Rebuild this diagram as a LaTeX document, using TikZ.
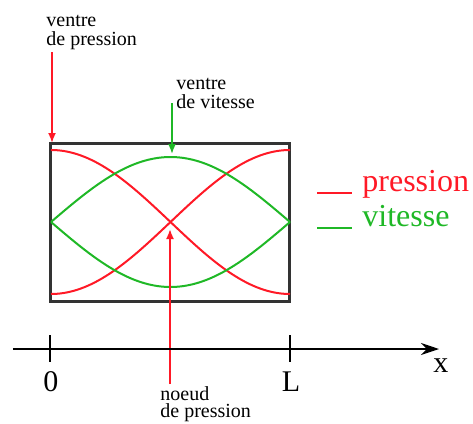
\documentclass[tikz,border=0pt]{standalone}
\usepackage{fontspec}
\setmainfont{Liberation Serif}
\usepackage{tikz}
\usetikzlibrary{arrows.meta}
\definecolor{pgreen}{rgb}{0.12,0.72,0.15}
\definecolor{pred}{rgb}{1,0.1,0.15}

\begin{document}
\begin{tikzpicture}[x=0.5pt, y=-0.5pt, >={Latex[length=5pt,width=4pt]},
	every node/.style={inner sep=0pt},
	lbl/.style={align=left, font=\fontsize{10}{9.5}\selectfont},
	big/.style={font=\fontsize{15}{16}\selectfont},
	leg/.style={font=\fontsize{16}{18}\selectfont, anchor=base west},
	curve/.style={line width=1pt}]
	\useasboundingbox (0,0) rectangle (473,424);
	% the tube
	\draw[line width=1.5pt, black!80] (51,143) rectangle (290,301);
	\draw[pred, curve] plot[domain=0:180, samples=80] ({51+1.3278*\x}, {222-72*cos(\x)});
	\draw[pred, curve] plot[domain=0:180, samples=80] ({51+1.3278*\x}, {222+72*cos(\x)});
	\draw[pgreen, curve] plot[domain=0:180, samples=80] ({51+1.3278*\x}, {222-65*sin(\x)});
	\draw[pgreen, curve] plot[domain=0:180, samples=80] ({51+1.3278*\x}, {222+65*sin(\x)});
	% labels and arrows
	\coordinate (vp) at (52,143);
	\coordinate (vv) at (172,154);
	\coordinate (np) at (170,229);
	\node[lbl, anchor=north west] (lblvp) at (46,15) {ventre\\de pression};
	\node[lbl, anchor=north west, font=\fontsize{10}{8.5}\selectfont] (lblnp) at (160,386) {noeud\\de pression};
	\node[lbl, anchor=north west] (lblvv) at (176,78) {ventre\\de vitesse};
	\draw[->, pred, line width=0.9pt] ([yshift=-1pt]lblvp.south -| vp) -- (vp);
	\draw[->, pgreen, line width=0.9pt] ([yshift=3pt]lblvv.south -| vv) -- (vv);
	\draw[->, pred, line width=0.9pt] ([yshift=1pt]lblnp.north -| np) -- (np);
	% legend
	\node[leg, pred] (legp) at (362,191) {pression};
	\node[leg, pgreen] (legv) at (362,226) {vitesse};
	\draw[pred, line width=1.3pt] ([xshift=-5pt,yshift=-1pt]legp.base west) -- ++(-35,0);
	\draw[pgreen, line width=1.3pt] ([xshift=-5pt,yshift=-1pt]legv.base west) -- ++(-35,0);
	% axis
	\coordinate (xstart) at (13,349);
	\coordinate (xend) at (439,349);
	\coordinate (xo) at (50,349);
	\coordinate (xl) at (290,349);
	\draw[-{Stealth[length=9pt,width=6pt,inset=3pt]}, line width=0.8pt] (xstart) -- (xend);
	\draw[line width=0.8pt] (xo) ++(0,-14) -- ++(0,27);
	\draw[line width=0.8pt] (xl) ++(0,-14) -- ++(0,27);
	\node[big] (lo) at (51,382) {0};
	\node[big] (ll) at (291,382) {L};
	\node[big] (lx) at (441,366) {x};
\end{tikzpicture}
\end{document}
